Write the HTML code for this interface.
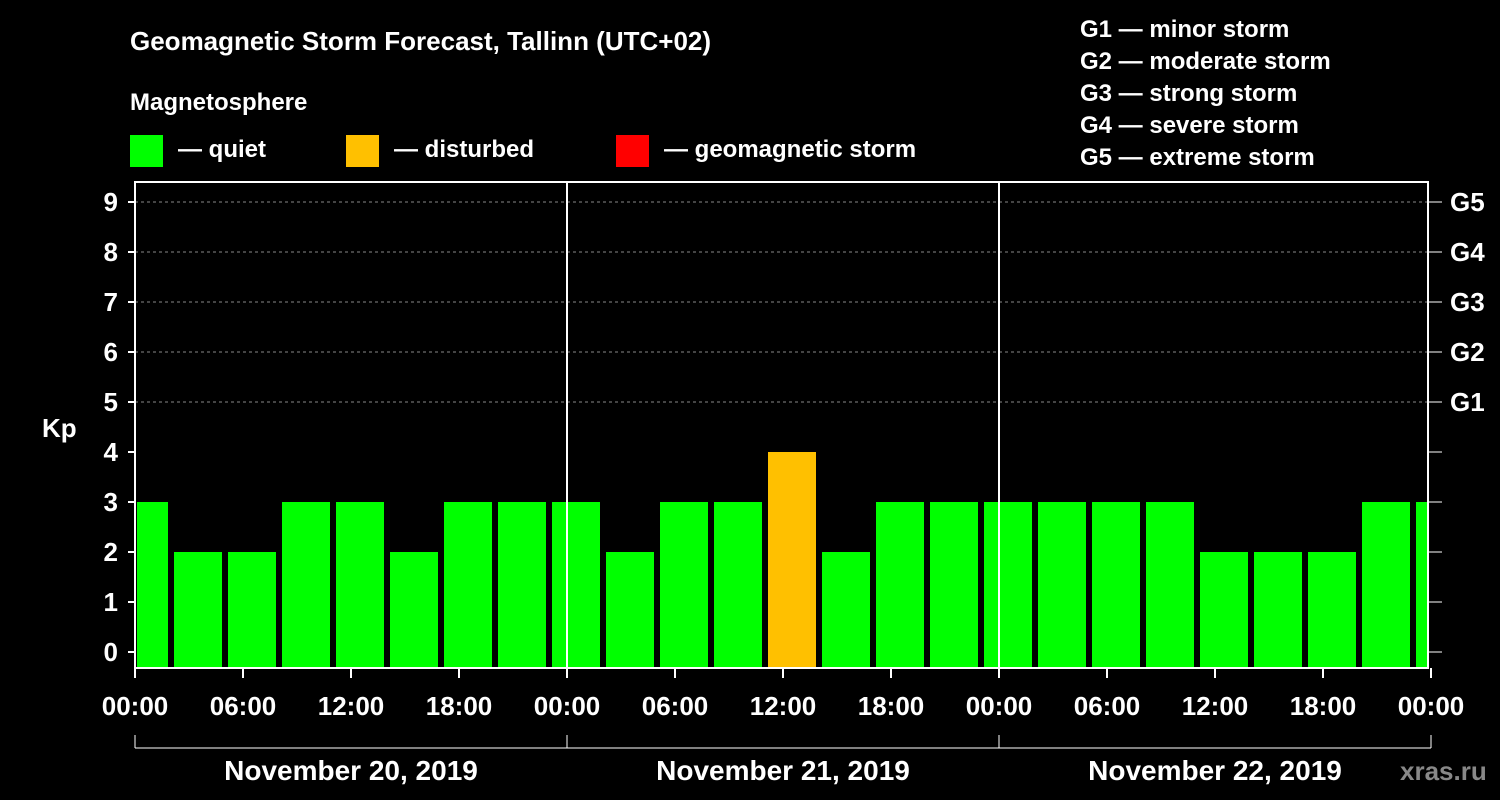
<!DOCTYPE html>
<html><head><meta charset="utf-8"><style>
html,body{margin:0;padding:0;background:#000;}
svg{display:block;font-family:"Liberation Sans",sans-serif;font-weight:bold;}
</style></head><body>
<svg id="chart" width="1500" height="800" viewBox="0 0 1500 800">
<rect width="1500" height="800" fill="#000"/>
<text x="130" y="50" fill="#fff" font-size="26">Geomagnetic Storm Forecast, Tallinn (UTC+02)</text>
<text x="130" y="110" fill="#fff" font-size="24">Magnetosphere</text>
<g><rect x="130" y="135" width="33" height="32" fill="#00ff00"/><text x="178" y="157" fill="#fff" font-size="24">— quiet</text></g>
<g><rect x="346" y="135" width="33" height="32" fill="#ffc000"/><text x="394" y="157" fill="#fff" font-size="24">— disturbed</text></g>
<g><rect x="616" y="135" width="33" height="32" fill="#ff0000"/><text x="664" y="157" fill="#fff" font-size="24">— geomagnetic storm</text></g>
<g fill="#fff" font-size="24">
<text x="1080" y="37">G1 — minor storm</text>
<text x="1080" y="69">G2 — moderate storm</text>
<text x="1080" y="101">G3 — strong storm</text>
<text x="1080" y="133">G4 — severe storm</text>
<text x="1080" y="165">G5 — extreme storm</text>
</g>
<text x="42" y="437" fill="#fff" font-size="26">Kp</text>
<text x="1400" y="780" fill="#888" font-size="26">xras.ru</text>
<g id="grid"></g>
<g id="bars"></g>
<g id="axes"></g>
</svg>
<script>
const kpValues = [3,2,2,3,3,2,3,3,3,2,3,3,4,2,3,3,3,3,3,3,2,2,2,3,3];
const yTicks = [0,1,2,3,4,5,6,7,8,9];
const gLabels = ["G1","G2","G3","G4","G5"];
const gLevels = [5,6,7,8,9];
const timeLabels = ["00:00","06:00","12:00","18:00","00:00","06:00","12:00","18:00","00:00","06:00","12:00","18:00","00:00"];
const dateLabels = ["November 20, 2019","November 21, 2019","November 22, 2019"];

const NS="http://www.w3.org/2000/svg";
const L=135,R=1428,T=182,B=668;
const x0=135, pxPerHour=18;
const yS=v=>652-v*50;
const xS=h=>x0+h*pxPerHour;
function mk(tag,attrs,parent){const e=document.createElementNS(NS,tag);for(const k in attrs)e.setAttribute(k,attrs[k]);parent.appendChild(e);return e;}
const grid=document.getElementById('grid'),bars=document.getElementById('bars'),axes=document.getElementById('axes');

gLevels.forEach((lv,i)=>{
 const ln=mk('line',{x1:L,x2:R,y1:yS(lv),y2:yS(lv),stroke:'#888','stroke-dasharray':'3,3','stroke-width':1},grid);
 
 
 const t=mk('text',{x:1450,y:yS(lv)+9,fill:'#fff','font-size':26},axes);
 t.textContent=gLabels[i];
 
 
});

kpValues.forEach((v,i)=>{
 let xa=xS(3*i)-15, xb=xa+48;
 xa=Math.max(xa,L+2); xb=Math.min(xb,R);
 const r=mk('rect',{x:xa,y:yS(v),width:xb-xa,height:B-yS(v),fill:v>=5?'#ff0000':(v>=4?'#ffc000':'#00ff00')},bars);
 
 
});

[1,2].forEach(d=>{const l=mk('line',{x1:xS(24*d),x2:xS(24*d),y1:T,y2:B,stroke:'#fff','stroke-width':2},axes);
 
 });
const fr=mk('rect',{x:L,y:T,width:R-L,height:B-T,fill:'none',stroke:'#fff','stroke-width':2},axes);



yTicks.forEach(v=>{
 mk('line',{x1:L-7,x2:L,y1:yS(v),y2:yS(v),stroke:'#fff','stroke-width':2},axes);
 mk('line',{x1:R,x2:R+14,y1:yS(v),y2:yS(v),stroke:'#fff','stroke-width':1},axes);
 const t=mk('text',{x:118,y:yS(v)+9,fill:'#fff','font-size':26,'text-anchor':'end'},axes);
 t.textContent=v;
 
 
});

timeLabels.forEach((s,i)=>{
 const x=xS(6*i);
 mk('line',{x1:x,x2:x,y1:B,y2:B+10,stroke:'#fff','stroke-width':2},axes);
 const t=mk('text',{x:x,y:715,fill:'#fff','font-size':26,'text-anchor':'middle'},axes);
 t.textContent=s;
 
 
});

mk('line',{x1:xS(0),x2:xS(72),y1:748,y2:748,stroke:'#fff','stroke-width':1},axes);
[0,1,2,3].forEach(d=>mk('line',{x1:xS(24*d),x2:xS(24*d),y1:735,y2:748,stroke:'#fff','stroke-width':1},axes));
dateLabels.forEach((s,i)=>{
 const t=mk('text',{x:xS(24*i+12),y:780,fill:'#fff','font-size':28,'text-anchor':'middle'},axes);
 t.textContent=s;
 
 
});
</script>
</body></html>
